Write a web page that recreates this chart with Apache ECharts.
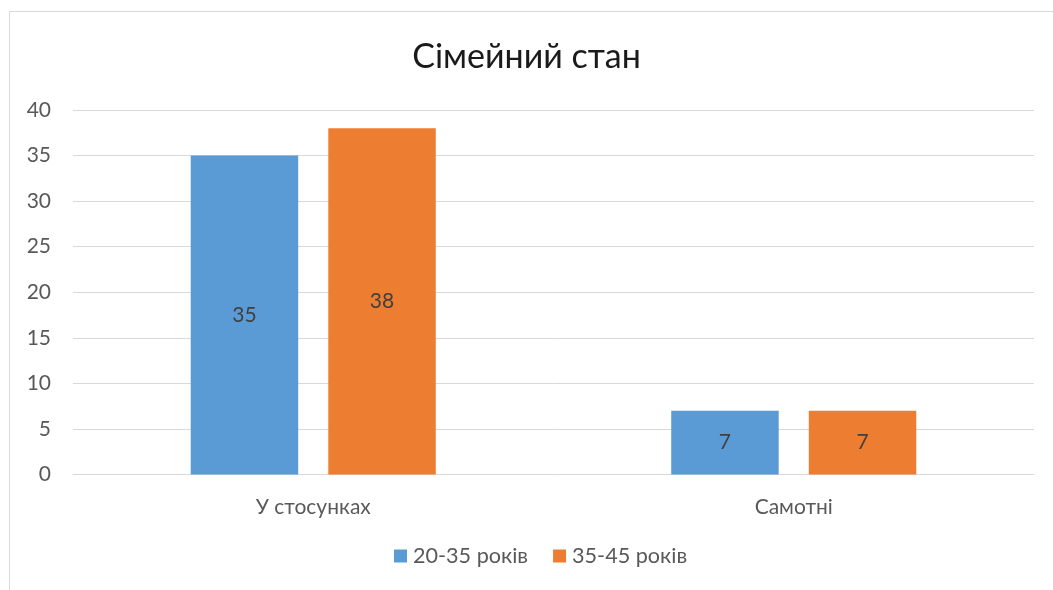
<!DOCTYPE html>
<html>
<head>
<meta charset="utf-8">
<script src="https://cdn.jsdelivr.net/npm/echarts@6/dist/echarts.min.js"></script>
<style>html,body{margin:0;padding:0;background:#fff}#c{width:1053px;height:590px}</style>
</head>
<body>
<div id="c"></div>
<script>
const title = 'Сімейний стан';
const categories = ['У стосунках', 'Самотні'];
const seriesNames = ['20-35 років', '35-45 років'];
const values2035 = [35, 7];
const values3545 = [38, 7];
const colors = ['#5B9BD5', '#ED7D31'];
const font = 'Lato, "Open Sans", sans-serif';

const chart = echarts.init(document.getElementById('c'));
const mkSeries = (name, data, color) => ({
  name, type: 'bar', data,
  barGap: '28%', barCategoryGap: '49%',
  itemStyle: { color },
  label: { show: true, position: 'inside', color: '#404040', fontSize: 21, fontFamily: font },
  emphasis: { disabled: true }
});
chart.setOption({
  animation: false,
  graphic: [{ type: 'rect', shape: { x: 9.5, y: 11.5, width: 1200, height: 800 }, style: { fill: 'none', stroke: '#d9d9d9', lineWidth: 1 }, silent: true }],
  title: { text: title, left: 'center', top: 35, textStyle: { fontFamily: font, fontSize: 34, fontWeight: 'normal', color: '#1a1a1a' } },
  legend: { bottom: 18, left: 389, itemWidth: 13, itemHeight: 13, itemGap: 25, icon: 'rect',
    textStyle: { fontFamily: font, fontSize: 21.6, color: '#595959', padding: [0, 0, 0, 1] }, data: seriesNames },
  grid: { left: 73, right: 19, top: 110, bottom: 115.5, containLabel: false },
  xAxis: { type: 'category', data: categories,
    axisLine: { lineStyle: { color: '#d9d9d9' } }, axisTick: { show: false },
    axisLabel: { fontFamily: font, fontSize: 21, color: '#595959', margin: 22 } },
  yAxis: { type: 'value', min: 0, max: 40, interval: 5,
    axisLine: { show: false }, axisTick: { show: false },
    splitLine: { lineStyle: { color: '#d9d9d9' } },
    axisLabel: { fontFamily: font, fontSize: 21, color: '#595959', margin: 22 } },
  series: [mkSeries(seriesNames[0], values2035, colors[0]), mkSeries(seriesNames[1], values3545, colors[1])]
});
</script>
</body>
</html>
